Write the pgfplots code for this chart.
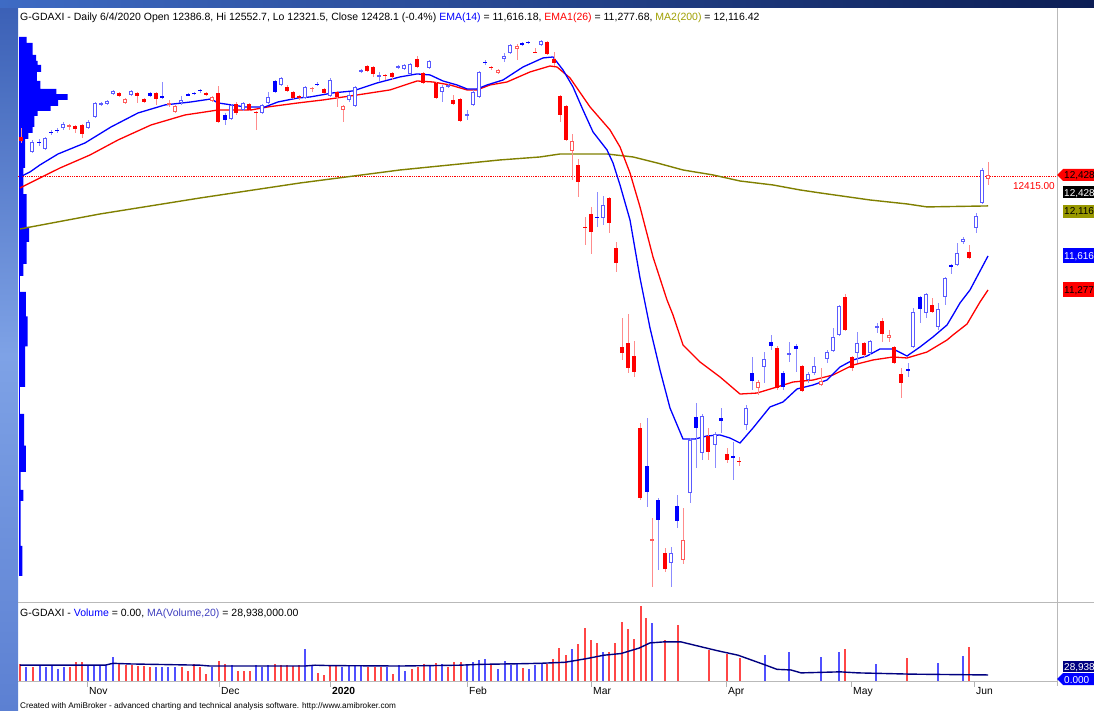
\documentclass[border=0pt]{standalone}
\usepackage{pgfplots}
\pgfplotsset{compat=1.18}
\usepackage{pgfplotstable}
\usepackage{fontspec}
\setmainfont{Liberation Sans}

\definecolor{olv}{RGB}{128,128,0}
\definecolor{olvbox}{RGB}{153,153,0}
\definecolor{olvtxt}{RGB}{160,160,0}
\definecolor{wickB}{RGB}{140,140,255}
\definecolor{wickR}{RGB}{255,140,140}
\definecolor{hollowB}{RGB}{90,90,255}
\definecolor{hollowR}{RGB}{255,90,90}
\definecolor{volR}{RGB}{255,70,70}
\definecolor{volB}{RGB}{80,80,255}
\definecolor{navy}{RGB}{0,0,128}
\definecolor{maV}{RGB}{64,64,192}

\pgfplotsset{
  cndl/.style 2 args={draw=none, mark=none, forget plot,
    error bars/.cd, y dir=both, y explicit, error mark=none,
    error bar style={draw=#1, solid, line width=#2}},
}

% candles: x (bar position), open, high, low, close
\pgfplotstableread{
x o h l c
32 12656 12777 12646 12757
45 12687 12807 12677 12797
63 12898 12958 12878 12938
88 12898 12979 12888 12958
95 13009 13160 12999 13150
101 13130 13160 13120 13150
107 13140 13180 13130 13170
113 13240 13281 13230 13271
131 13230 13281 13220 13271
181 13150 13220 13130 13180
231 12989 13140 12979 13130
243 13079 13160 13069 13150
262 13049 13140 13039 13130
268 13150 13261 13140 13210
281 13331 13412 13321 13402
305 13200 13321 13190 13311
330 13220 13402 13210 13381
349 13180 13261 13160 13230
355 13120 13321 13110 13311
361 13462 13492 13452 13482
379 13412 13462 13361 13432
398 13502 13532 13492 13522
404 13492 13543 13482 13532
410 13442 13553 13432 13543
429 13502 13583 13492 13573
442 13261 13331 13160 13311
448 13311 13341 13301 13331
467 13019 13079 12979 13039
473 13130 13281 13120 13261
479 13210 13472 13200 13462
504 13593 13653 13563 13623
510 13653 13744 13643 13734
541 13734 13784 13724 13774
603 11992 12213 11921 12123
671 8518 8679 8276 8618
690 9223 9776 9122 9756
702 9625 10018 9555 9997
715 9706 9837 9474 9817
746 9907 10109 9857 10078
764 10491 10643 10330 10572
789 10612 10743 10542 10633
808 10360 10441 10330 10421
814 10431 10592 10411 10501
827 10572 10662 10532 10643
833 10653 10884 10643 10794
839 10814 11116 10804 11106
857 10633 10844 10532 10733
870 10633 10763 10612 10753
877 10884 10935 10834 10904
913 10693 11086 10683 11045
926 11035 11236 10985 11226
938 10894 11136 10864 11076
945 11196 11398 11116 11388
957 11518 11740 11508 11639
963 11750 11800 11730 11780
976 11891 12042 11841 12012
982 12143 12495 12133 12475
}\BH

\pgfplotstableread{
x o h l c
39 12757 12787 12717 12747
51 12858 12878 12828 12848
57 12878 12898 12848 12868
150 13251 13261 13210 13220
162 13220 13361 13190 13200
188 13240 13251 13220 13230
194 13251 13261 13230 13240
200 13281 13291 13251 13271
225 13029 13049 12928 12979
275 13371 13381 13251 13261
317 13341 13361 13321 13331
485 13563 13583 13532 13553
522 13754 13764 13724 13734
528 13764 13770 13744 13754
597 12002 12254 11901 11992
647 9494 9977 9082 9233
658 9152 9172 8447 8951
677 9092 9202 8870 8941
696 9987 10129 9474 9877
721 9977 10078 9827 9947
733 9595 9736 9354 9575
752 10431 10592 10260 10350
771 10743 10814 10662 10703
783 10431 10451 10260 10290
796 10703 10723 10441 10673
908 10471 10532 10391 10461
920 11196 11206 10935 11076
951 11518 11529 11428 11498
}\BF

\pgfplotstableread{
x o h l c
69 12908 12938 12878 12928
125 13150 13200 13140 13190
169 13130 13180 13110 13150
175 13059 13130 13049 13120
212 13170 13220 13160 13210
312 13291 13311 13261 13301
343 13079 13130 12958 13120
498 13452 13492 13442 13482
517 13694 13744 13583 13728
572 12666 12838 12374 12767
652 8739 8971 8276 8759
683 8548 9071 8508 8749
758 10280 10360 10209 10340
821 10310 10481 10300 10350
889 10783 10864 10743 10815
988 12386.8 12552.7 12321.5 12428.1
}\RH

\pgfplotstableread{
x o h l c
21 12807 12898 12747 12767
75 12918 12928 12848 12888
82 12928 12938 12797 12838
119 13251 13261 13210 13220
137 13251 13261 13150 13220
144 13190 13200 13150 13160
156 13251 13261 13130 13190
206 13251 13261 13220 13230
218 13251 13321 12948 12958
236 13140 13160 13029 13049
249 13140 13150 13069 13079
256 13059 13069 12878 13049
287 13311 13331 13261 13271
293 13261 13271 13190 13200
299 13215 13230 13180 13195
324 13291 13301 13240 13251
337 13261 13271 13110 13210
367 13522 13532 13462 13472
373 13512 13522 13412 13442
385 13432 13442 13381 13422
392 13452 13462 13381 13412
417 13593 13623 13502 13512
423 13452 13462 13341 13351
436 13351 13361 13190 13200
453 13180 13230 13130 13140
460 13190 13200 12958 12969
491 13512 13522 13482 13502
535 13663 13704 13648 13653
547 13764 13774 13633 13643
554 13593 13663 13522 13553
560 13220 13230 12958 13029
566 13120 13130 12767 12777
578 12526 12586 12203 12354
585 11901 12002 11720 11891
591 12032 12103 11629 11851
609 12193 12203 11841 11941
616 11690 11750 11448 11539
622 10693 10985 10562 10633
628 10733 11025 10431 10481
634 10602 10753 10391 10441
640 9877 9927 9152 9172
665 8618 8669 8427 8457
708 9797 9877 9555 9635
727 9615 9676 9525 9555
739 9545 9585 9494 9535
777 10683 10703 10260 10280
802 10501 10511 10240 10250
845 11196 11226 10854 10864
852 10592 10602 10451 10481
864 10733 10743 10592 10612
882 10955 10985 10743 10824
894 10693 10703 10522 10532
901 10421 10481 10179 10330
932 11116 11186 11035 11045
969 11649 11720 11579 11589
}\RF

% volume (millions)
\pgfplotstableread{
x v
20 84
33 67
70 67
76 93
82 93
119 84
126 76
132 76
138 72
144 72
150 67
182 67
188 50
194 84
200 67
206 34
219 98
225 84
238 50
244 50
250 47
275 84
281 76
287 76
293 72
299 79
318 37
324 30
330 76
336 72
368 67
375 67
381 67
393 34
412 59
418 67
424 84
436 87
448 67
454 93
461 93
491 84
523 62
547 81
553 107
559 158
566 124
578 178
585 254
591 195
597 183
609 141
615 183
622 285
628 251
634 204
641 361
646 302
665 195
678 268
709 149
727 132
740 110
845 153
907 110
969 163
}\VR

\pgfplotstableread{
x v
26 67
40 76
46 67
52 76
58 59
64 67
88 76
94 76
100 79
106 76
113 113
156 67
162 67
168 67
175 67
212 67
232 76
256 76
262 67
268 76
305 156
312 72
342 67
349 76
355 79
361 76
387 67
399 76
405 50
430 76
442 84
467 76
473 93
479 101
485 105
498 59
505 96
511 79
517 84
529 56
535 79
542 85
572 153
603 141
652 280
765 127
789 137
821 115
839 141
876 81
938 85
963 120
}\VB

\begin{document}
\begin{tikzpicture}[x=1pt,y=1pt]
\clip (0,0) rectangle (1094,710);
\fill[white] (0,0) rectangle (1094,710);
% window chrome
\shade[top color={rgb,255:red,58;green,95;blue,181}, bottom color={rgb,255:red,92;green,128;blue,210}, middle color={rgb,255:red,126;green,162;blue,230}] (0,0) rectangle (18,710);
\shade[left color={rgb,255:red,62;green,107;blue,196}, right color={rgb,255:red,12;green,30;blue,85}] (0,702) rectangle (1094,710);

% ---------------- price pane ----------------
\begin{axis}[at={(18pt,108pt)}, anchor=south west, scale only axis,
  width=1039pt, height=594pt, xmin=18, xmax=1057, ymin=8125, ymax=14106,
  hide axis, clip=true]

% volume-at-price profile
\addplot[fill=blue, draw=none, forget plot] coordinates {
(19,13814) (26.7,13814) (26.7,13754) (32.6,13754) (32.6,13633) (36,13633) (36,13573)
(37.7,13573) (37.7,13532) (41.1,13532) (41.1,13462) (36.9,13462) (36.9,13371) (40.3,13371)
(40.3,13291) (56.4,13291) (56.4,13240) (67.5,13240) (67.5,13180) (58.1,13180) (58.1,13120)
(50.5,13120) (50.5,13069) (37.7,13069) (37.7,13019) (34.3,13019) (34.3,12908) (32.6,12908)
(32.6,12848) (28.4,12848) (28.4,12787) (25,12787) (25,12495) (23.3,12495) (23.3,12233)
(26.7,12233) (26.7,11901) (29.2,11901) (29.2,11750) (26.7,11750) (26.7,11529) (23.3,11529)
(23.3,11408) (19.9,11408) (19.9,11247) (25.8,11247) (25.8,11000) (27.5,11000) (27.5,10700)
(25,10700) (25,10290) (19.9,10290) (19.9,10018) (24.1,10018) (24.1,9700) (25.8,9700)
(25.8,9434) (20.7,9434) (20.7,9253) (23.3,9253) (23.3,9142) (20.7,9142) (20.7,8689)
(22.4,8689) (22.4,8387) (19,8387)};

% reference line
\addplot[red, line width=0.8pt, dash pattern=on 0.9pt off 0.9pt, forget plot] coordinates {(18,12415) (1057,12415)};

% MA2(200)
\addplot[olv, line width=1.4pt, forget plot] coordinates {
(20,11881) (100,12032) (200,12193) (300,12344) (400,12475) (500,12576) (540,12606)
(560,12636) (607,12636) (633,12606) (657,12546) (683,12475) (713,12425) (740,12364)
(773,12324) (800,12274) (820,12244) (870,12173) (907,12133) (927,12103) (988,12113)};

% EMA1(26)
\addplot[red, line width=1.3pt, forget plot] coordinates {
(20,12294) (40,12395) (60,12495) (90,12626) (118,12777) (151,12928) (185,13029)
(205,13059) (218,13079) (251,13079) (268,13110) (298,13150) (323,13180) (357,13230)
(390,13281) (417,13371) (433,13361) (450,13331) (467,13281) (477,13281) (490,13331)
(507,13361) (530,13462) (550,13522) (557,13512) (570,13402) (590,13110) (610,12878)
(620,12707) (630,12445) (640,12103) (653,11599) (667,11166) (673,11015) (683,10713)
(700,10542) (720,10391) (740,10219) (757,10229) (777,10290) (793,10340) (813,10360)
(833,10411) (853,10511) (873,10562) (893,10592) (907,10582) (927,10642) (947,10763)
(953,10814) (967,10924) (980,11146) (988,11267)};

% EMA(14)
\addplot[blue, line width=1.3pt, forget plot] coordinates {
(20,12405) (30,12455) (40,12526) (58,12636) (85,12747) (111,12908) (138,13049)
(165,13130) (191,13160) (211,13190) (218,13150) (245,13110) (265,13110) (278,13160)
(298,13200) (310,13210) (333,13251) (353,13271) (377,13351) (400,13412) (417,13442)
(430,13432) (443,13371) (457,13331) (467,13291) (477,13291) (487,13331) (503,13381)
(523,13512) (543,13603) (553,13613) (563,13482) (573,13311) (583,13079) (593,12858)
(607,12677) (613,12546) (620,12324) (630,11972) (640,11388) (650,10884) (660,10461)
(670,10078) (683,9766) (695,9766) (707,9797) (720,9807) (730,9776) (740,9726)
(753,9877) (770,10089) (783,10139) (797,10270) (813,10310) (827,10360) (840,10491)
(853,10562) (867,10602) (880,10673) (893,10673) (907,10602) (920,10693) (933,10794)
(947,10914) (953,11015) (960,11136) (970,11267) (988,11609)};

% wicks
\addplot[cndl={wickB}{0.9pt}] table[x=x, y expr={(\thisrow{h}+\thisrow{l})/2}, y error expr={(\thisrow{h}-\thisrow{l})/2}] {\BH};
\addplot[cndl={wickB}{0.9pt}] table[x=x, y expr={(\thisrow{h}+\thisrow{l})/2}, y error expr={(\thisrow{h}-\thisrow{l})/2}] {\BF};
\addplot[cndl={wickR}{0.9pt}] table[x=x, y expr={(\thisrow{h}+\thisrow{l})/2}, y error expr={(\thisrow{h}-\thisrow{l})/2}] {\RH};
\addplot[cndl={wickR}{0.9pt}] table[x=x, y expr={(\thisrow{h}+\thisrow{l})/2}, y error expr={(\thisrow{h}-\thisrow{l})/2}] {\RF};
% bodies
\addplot[cndl={blue}{4.2pt}] table[x=x, y expr={(\thisrow{o}+\thisrow{c})/2}, y error expr={max(abs(\thisrow{c}-\thisrow{o})/2,6)}] {\BF};
\addplot[cndl={red}{4.2pt}] table[x=x, y expr={(\thisrow{o}+\thisrow{c})/2}, y error expr={max(abs(\thisrow{c}-\thisrow{o})/2,6)}] {\RF};
\addplot[cndl={hollowB}{4.2pt}] table[x=x, y expr={(\thisrow{o}+\thisrow{c})/2}, y error expr={max(abs(\thisrow{c}-\thisrow{o})/2,6)}] {\BH};
\addplot[cndl={hollowR}{4.2pt}] table[x=x, y expr={(\thisrow{o}+\thisrow{c})/2}, y error expr={max(abs(\thisrow{c}-\thisrow{o})/2,6)}] {\RH};
\addplot[cndl={white}{2.3pt}] table[x=x, y expr={(\thisrow{o}+\thisrow{c})/2}, y error expr={max(abs(\thisrow{c}-\thisrow{o})/2-11,0)}] {\BH};
\addplot[cndl={white}{2.3pt}] table[x=x, y expr={(\thisrow{o}+\thisrow{c})/2}, y error expr={max(abs(\thisrow{c}-\thisrow{o})/2-11,0)}] {\RH};
\end{axis}

% ---------------- volume pane ----------------
\begin{axis}[at={(18pt,29pt)}, anchor=south west, scale only axis,
  width=1039pt, height=77pt, xmin=18, xmax=1057, ymin=0, ymax=370,
  hide axis, clip=true]
\addplot[ycomb, volR, line width=1.1pt, forget plot] table[x=x,y=v] {\VR};
\addplot[ycomb, volB, line width=1.1pt, forget plot] table[x=x,y=v] {\VB};
\addplot[navy, line width=1.4pt, forget plot] coordinates {
(20,76) (105,76) (113,85) (130,82) (200,76) (210,72) (305,72) (315,76) (330,74)
(400,72) (460,76) (480,80) (520,83) (540,85) (565,90) (586,107) (604,124) (621,132)
(639,158) (650,183) (664,188) (681,188) (692,175) (717,146) (738,124) (763,81)
(777,56) (791,53) (801,39) (840,44) (858,39) (911,33) (988,29)};
\end{axis}

% frame lines
\draw[gray!55, line width=0.8pt] (18,107.5) -- (1094,107.5);
\draw[gray!55, line width=0.8pt] (18,28.5) -- (1057,28.5);
\draw[gray!55, line width=0.8pt] (1057,702) -- (1057,24);
\foreach \t in {87,219,330,467,591,726,851,974} {\draw[gray!60, line width=0.7pt] (\t,28.5) -- (\t,23.5);}

% date labels
\begin{scope}[font=\fontsize{10.3}{12}\selectfont]
\node[anchor=base west, inner sep=0] at (89,15.5) {Nov};
\node[anchor=base west, inner sep=0] at (221,15.5) {Dec};
\node[anchor=base west, inner sep=0] at (332,15.5) {\textbf{2020}};
\node[anchor=base west, inner sep=0] at (469,15.5) {Feb};
\node[anchor=base west, inner sep=0] at (593,15.5) {Mar};
\node[anchor=base west, inner sep=0] at (728,15.5) {Apr};
\node[anchor=base west, inner sep=0] at (853,15.5) {May};
\node[anchor=base west, inner sep=0] at (976,15.5) {Jun};
\end{scope}

% titles
\node[anchor=base west, inner sep=0, font=\fontsize{10.5}{12}\selectfont] at (20,689)
 {G-GDAXI - Daily 6/4/2020 Open 12386.8, Hi 12552.7, Lo 12321.5, Close 12428.1 (-0.4\%) \textcolor{blue}{EMA(14)} = 11,616.18, \textcolor{red}{EMA1(26)} = 11,277.68, \textcolor{olvtxt}{MA2(200)} = 12,116.42};
\node[anchor=base west, inner sep=0, font=\fontsize{10.5}{12}\selectfont] at (20,94)
 {G-GDAXI - \textcolor{blue}{Volume} = 0.00, \textcolor{maV}{MA(Volume,20)} = 28,938,000.00};
\node[anchor=base west, inner sep=0, font=\fontsize{8.2}{9}\selectfont] at (20,1.5)
 {Created with AmiBroker - advanced charting and technical analysis software. http://www.amibroker.com};

% reference value
\node[anchor=base east, inner sep=0, red, font=\fontsize{10}{11}\selectfont] at (1055,520.5) {12415.00};

% right-hand value boxes
\begin{scope}[font=\fontsize{10}{11}\selectfont]
\fill[red] (1057,535) -- (1063,541) -- (1100,541) -- (1100,529) -- (1063,529) -- cycle;
\node[anchor=base west, inner sep=0] at (1064,531) {12,428};
\fill[black] (1063,511.5) rectangle (1100,523.5);
\node[anchor=base west, inner sep=0, white] at (1064,513.5) {12,428};
\fill[olvbox] (1063,492) rectangle (1100,505);
\node[anchor=base west, inner sep=0] at (1064,495) {12,116};
\fill[blue] (1063,447) rectangle (1100,462);
\node[anchor=base west, inner sep=0, white] at (1064,450.5) {11,616};
\fill[red] (1063,413) rectangle (1100,428);
\node[anchor=base west, inner sep=0] at (1064,416.5) {11,277};
\fill[navy] (1063,38) rectangle (1100,49);
\node[anchor=base west, inner sep=0, white] at (1064,40) {28,938};
\fill[blue] (1057,31) -- (1063,37) -- (1100,37) -- (1100,25) -- (1063,25) -- cycle;
\node[anchor=base west, inner sep=0, white] at (1064,27) {0.000};
\end{scope}
\end{tikzpicture}
\end{document}
